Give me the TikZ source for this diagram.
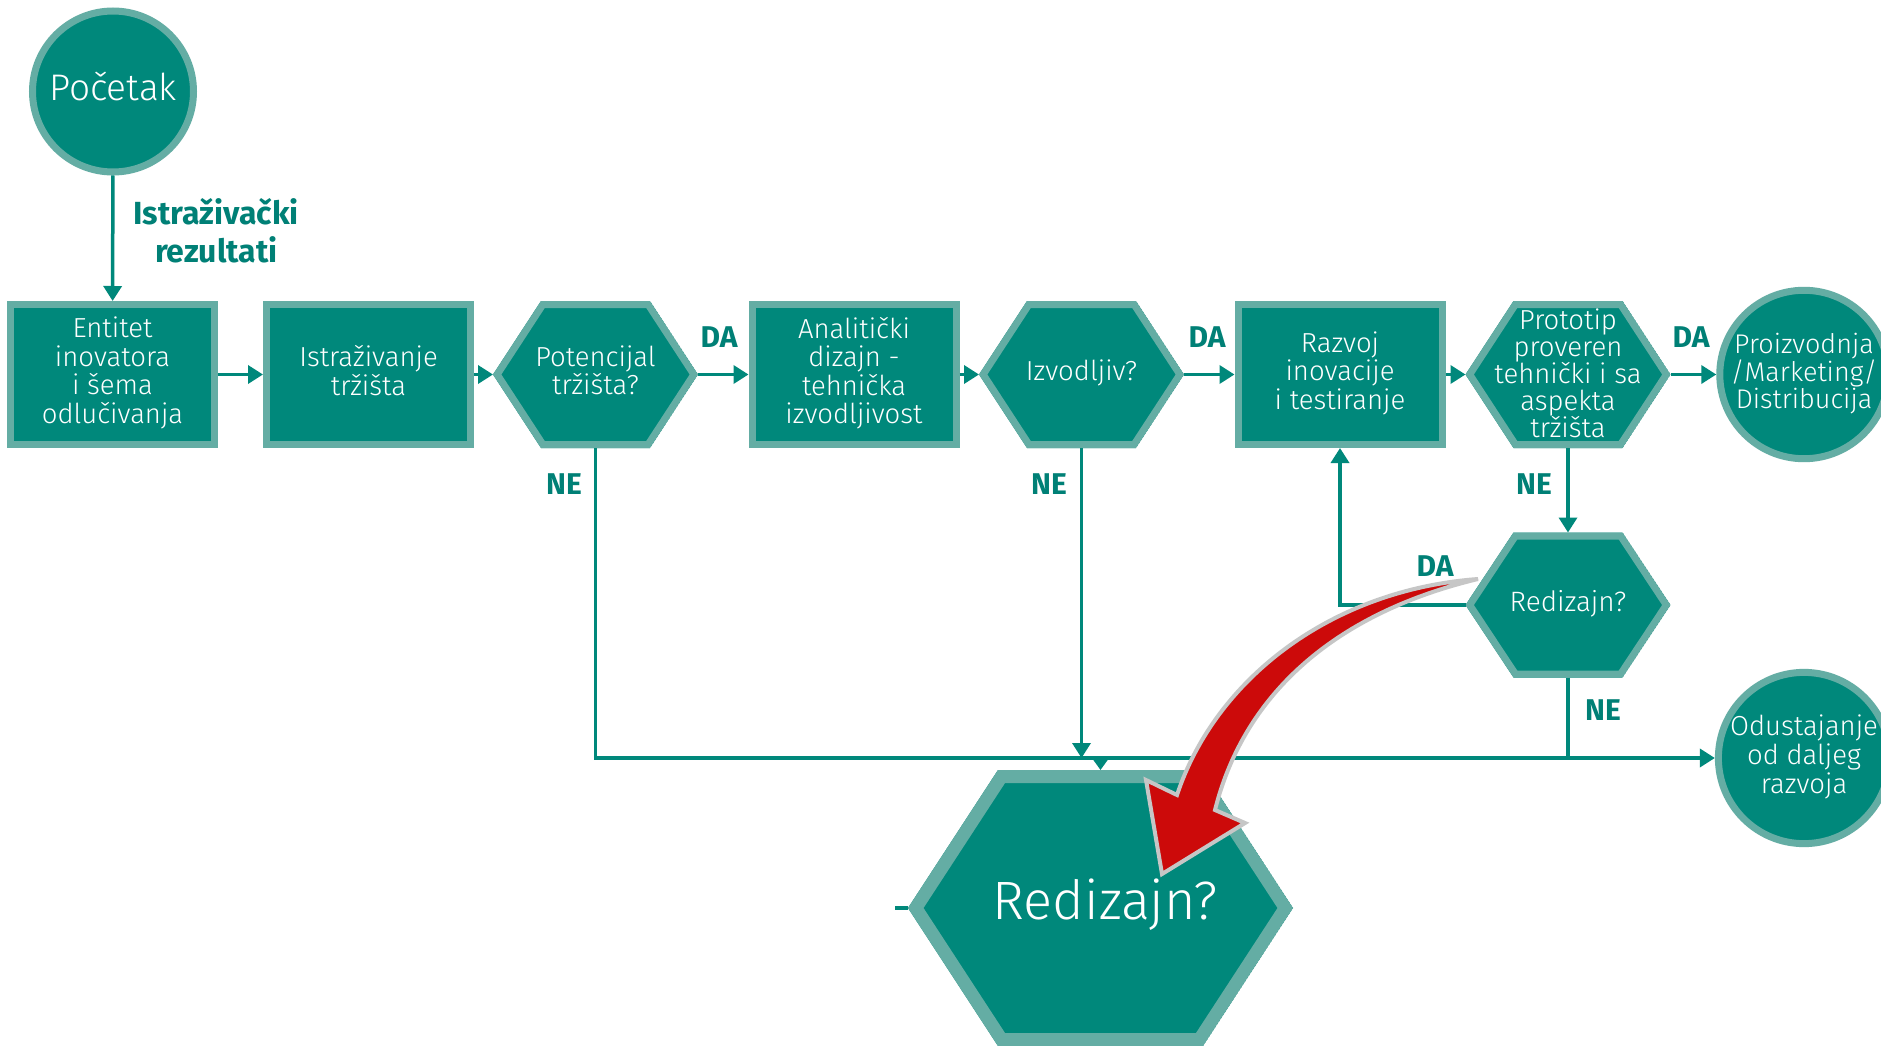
\documentclass[tikz,border=0pt]{standalone}
\usepackage{fontspec}
\setmainfont{Fira Sans}
\newfontfamily\lightsans{Fira Sans Light}
\usetikzlibrary{arrows.meta}

\definecolor{tealdark}{RGB}{0,136,123}
\definecolor{teallight}{RGB}{100,173,164}
\definecolor{tealtext}{RGB}{0,128,118}
\definecolor{arrowred}{RGB}{204,10,10}
\definecolor{arrowrim}{RGB}{198,198,198}

% hexagon: name, cx, cy, width, height, corner inset, border, font, text
\newcommand\hexnode[9]{%
  \begin{scope}
    \clip ({#2-#4/2},{#3}) -- ({#2-#4/2+#6},{#3-#5/2}) -- ({#2+#4/2-#6},{#3-#5/2})
      -- ({#2+#4/2},{#3}) -- ({#2+#4/2-#6},{#3+#5/2}) -- ({#2-#4/2+#6},{#3+#5/2}) -- cycle;
    \filldraw[fill=tealdark, draw=teallight, line width={2*#7}]
      ({#2-#4/2},{#3}) -- ({#2-#4/2+#6},{#3-#5/2}) -- ({#2+#4/2-#6},{#3-#5/2})
      -- ({#2+#4/2},{#3}) -- ({#2+#4/2-#6},{#3+#5/2}) -- ({#2-#4/2+#6},{#3+#5/2}) -- cycle;
  \end{scope}
  \node[hexlabel, font=#8, minimum width={#4}, minimum height={#5}] (#1) at ({#2},{#3}) {#9};
}

\begin{document}
\begin{tikzpicture}[x=1pt, y=-1pt,
  conn/.style={draw=tealdark, line width=3.5pt},
  arr/.style={conn, -{Triangle[width=18pt,length=15pt]}},
  boxtext/.style={align=center, text=white,
    execute at begin node=\strut, execute at end node=\strut},
  box/.style={boxtext, rectangle, fill=tealdark, draw=teallight, line width=7pt,
    minimum width=204pt, minimum height=140pt, inner sep=0pt,
    font=\lightsans\fontsize{27.5}{28.5}\selectfont},
  disc/.style={boxtext, circle, fill=tealdark, draw=teallight, line width=7pt,
    inner sep=0pt},
  hexlabel/.style={boxtext, rectangle, inner sep=0pt, outer sep=0pt},
  answer/.style={text=tealtext, inner sep=0pt, anchor=base,
    font=\fontsize{30}{32}\selectfont\bfseries},
]
\useasboundingbox (0,0) rectangle (1881,1046);
\fill[white] (0,0) rectangle (1881,1046);

% start and the first row of steps
\node[disc, minimum size=161pt, font=\lightsans\fontsize{37}{43}\selectfont] (start) at (113,91.5) {Početak};
\node[box] (entitet) at (112.5,374.5) {Entitet\\inovatora\\i šema\\odlučivanja};
\node[box] (istraz) at (368.5,374.5) {Istraživanje\\tržišta};
\hexnode{potenc}{595.5}{374.5}{205}{147}{48}{7}{\lightsans\fontsize{27.5}{28.5}\selectfont}{Potencijal\\tržišta?}
\node[box] (analit) at (854,374.5) {Analitički\\dizajn -\\tehnička\\izvodljivost};
\hexnode{izvod}{1081.5}{374.5}{205}{147}{48}{7}{\lightsans\fontsize{27.5}{28.5}\selectfont}{Izvodljiv?}
\node[box] (razvoj) at (1340,374.5) {Razvoj\\inovacije\\i testiranje};
\hexnode{proto}{1568}{374.5}{205}{147}{48}{7}{\lightsans\fontsize{27.5}{27}\selectfont}{\rule{0pt}{26pt}Prototip\\proveren\\tehnički i sa\\aspekta\\tržišta}
\node[disc, minimum size=164pt, font=\lightsans\fontsize{27}{27}\selectfont] (proizv) at (1804,374.5) {Proizvodnja\\/Marketing/\\Distribucija};

% redesign decision and the end state
\hexnode{redizmali}{1568}{605}{205}{145}{48}{7}{\lightsans\fontsize{28}{28.5}\selectfont}{Redizajn?}
\node[disc, minimum size=162pt, font=\lightsans\fontsize{27.5}{29}\selectfont] (odust) at (1804,758) {Odustajanje\\od daljeg\\razvoja};

% enlarged redesign decision
\hexnode{redizveliki}{1100.5}{908}{385}{276}{90}{13}{\lightsans\fontsize{54}{56}\selectfont}{\hspace*{10pt}Redizajn?}

% connectors
\draw[arr] (start) -- (entitet)
  node[pos=0.44, right=19pt, align=center, text=tealtext, inner sep=0pt,
       font=\fontsize{32}{38}\selectfont\bfseries] (rezlabel) {Istraživački\\rezultati};
\draw[arr] (entitet) -- (istraz);
\draw[arr] (istraz) -- (potenc);
\draw[arr] (potenc) -- (analit);
\draw[arr] (analit) -- (izvod);
\draw[arr] (izvod) -- (razvoj);
\draw[arr] (razvoj) -- (proto);
\draw[arr] (proto) -- (proizv);
\draw[arr] (proto.south) -- (redizmali.north);
\draw[arr] (redizmali.west) -| (razvoj.south);
\draw[conn] (redizmali.south) -- (redizmali.south |- odust.west);
\draw[arr] (potenc.south) |- (odust.west);
\draw[arr] (izvod.south) -- (izvod.south |- odust.west);
\coordinate (drop) at (redizveliki.north |- odust.west);
\draw[conn, -{Triangle[width=15pt,length=11pt]}] (drop) -- (redizveliki.north);
\coordinate (stub) at (895,908);
\draw[conn] (stub) -- (redizveliki.west);

% answers on the branches
\node[answer] (da1) at (719,347) {DA};
\node[answer] (da2) at (1207,347) {DA};
\node[answer] (da3) at (1691,347) {DA};
\node[answer] (da4) at (1435,576) {DA};
\node[answer] (ne1) at (564,494) {NE};
\node[answer] (ne2) at (1049,494) {NE};
\node[answer] (ne3) at (1534,494) {NE};
\node[answer] (ne4) at (1603,720) {NE};

% curved red pointer from the small decision to the enlarged one
\filldraw[fill=arrowred, draw=arrowrim, line width=4pt, line join=miter]
  (1478,579) .. controls (1330,590) and (1215,680) .. (1177,795)
  -- (1146,780) -- (1162,874) -- (1245,823) -- (1215,810)
  .. controls (1245,690) and (1340,612) .. (1478,579) -- cycle;
\end{tikzpicture}
\end{document}
